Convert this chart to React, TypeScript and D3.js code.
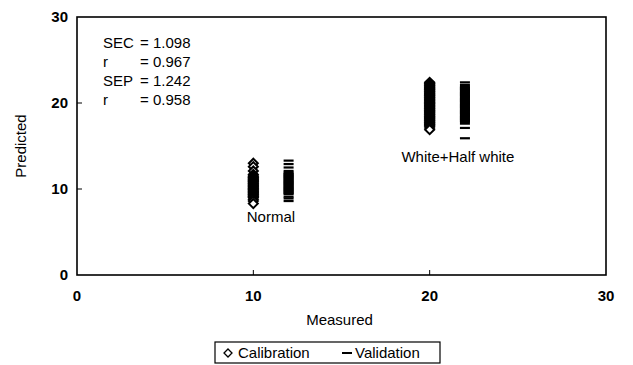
import React from "react";
import * as d3 from "d3";

const xTicks = [0, 10, 20, 30];
const yTicks = [0, 10, 20, 30];

const calNormalX = 10;
const calNormal = [13.0, 12.6, 12.1, 11.7, 11.5, 11.4, 11.3, 11.2, 11.1, 11.0, 10.9, 10.8, 10.7, 10.6, 10.5, 10.4, 10.3, 10.2, 10.1, 10.0, 9.9, 9.8, 9.7, 9.6, 9.5, 9.4, 9.3, 9.2, 9.1, 9.0, 8.8, 8.6, 8.3];
const valNormalX = 12;
const valNormal = [13.3, 12.9, 12.5, 12.1, 11.9, 11.8, 11.7, 11.6, 11.5, 11.4, 11.3, 11.2, 11.1, 11.0, 10.9, 10.8, 10.7, 10.6, 10.5, 10.4, 10.3, 10.2, 10.1, 10.0, 9.9, 9.8, 9.7, 9.6, 9.5, 9.4, 9.1, 8.9, 8.6];
const calWhiteX = 20;
const calWhite = [22.4, 22.3, 22.2, 22.1, 22.0, 21.9, 21.8, 21.7, 21.6, 21.5, 21.4, 21.3, 21.2, 21.1, 21.0, 20.9, 20.8, 20.7, 20.6, 20.5, 20.4, 20.3, 20.2, 20.1, 20.0, 19.9, 19.8, 19.7, 19.6, 19.5, 19.4, 19.3, 19.2, 19.1, 19.0, 18.9, 18.8, 18.7, 18.6, 18.5, 18.4, 18.3, 18.2, 18.1, 18.0, 17.9, 17.8, 17.7, 17.6, 17.5, 17.4, 17.3, 17.1, 16.9];
const valWhiteX = 22;
const valWhite = [22.4, 22.1, 21.9, 21.8, 21.7, 21.6, 21.5, 21.4, 21.3, 21.2, 21.1, 21.0, 20.9, 20.8, 20.7, 20.6, 20.5, 20.4, 20.3, 20.2, 20.1, 20.0, 19.9, 19.8, 19.7, 19.6, 19.5, 19.4, 19.3, 19.2, 19.1, 19.0, 18.9, 18.8, 18.7, 18.6, 18.5, 18.4, 18.3, 18.2, 18.1, 18.0, 17.9, 17.8, 17.6, 17.1, 15.9];

const statLabels = ["SEC", "r", "SEP", "r"];
const statValues = ["1.098", "0.967", "1.242", "0.958"];

const groupLabels = [
  { text: "Normal", x: 11.0, y: 6.2 },
  { text: "White+Half white", x: 21.6, y: 13.1 },
];

export default function App() {
  const W = 633, H = 365;
  const left = 77, right = 606, top = 17, bottom = 275;
  const x = d3.scaleLinear().domain([0, 30]).range([left, right]);
  const y = d3.scaleLinear().domain([0, 30]).range([bottom, top]);
  const font = "'Liberation Sans', Arial, sans-serif";
  const diamond = (cx: number, cy: number, r = 4.5) =>
    `M${cx},${cy - r}L${cx + r},${cy}L${cx},${cy + r}L${cx - r},${cy}Z`;
  return (
    <svg width={W} height={H} style={{ position: "absolute", left: 0, top: 0, background: "#fff" }}>
      <rect x={left} y={top} width={right - left} height={bottom - top} fill="none" stroke="#000" strokeWidth={1.6} />
      {yTicks.map((t) => (
        <g key={"y" + t}>
          {t > 0 && t < 30 && <line x1={left} x2={left + 5} y1={y(t)} y2={y(t)} stroke="#000" strokeWidth={1} />}
          <text x={left - 9} y={y(t) + 5} textAnchor="end" fontFamily={font} fontSize={15} fontWeight="bold">{t}</text>
        </g>
      ))}
      {xTicks.map((t) => (
        <g key={"x" + t}>
          {t > 0 && t < 30 && <line x1={x(t)} x2={x(t)} y1={bottom} y2={bottom - 5} stroke="#000" strokeWidth={1} />}
          <text x={x(t)} y={bottom + 26} textAnchor="middle" fontFamily={font} fontSize={15} fontWeight="bold">{t}</text>
        </g>
      ))}
      <text x={(left + right) / 2 - 2} y={325} textAnchor="middle" fontFamily={font} fontSize={15}>Measured</text>
      <text transform={`translate(26,${(top + bottom) / 2}) rotate(-90)`} textAnchor="middle" fontFamily={font} fontSize={15}>Predicted</text>
      {statLabels.map((s, i) => (
        <g key={"s" + i}>
          <text x={103} y={48 + i * 19} fontFamily={font} fontSize={15}>{s}</text>
          <text x={140} y={48 + i * 19} fontFamily={font} fontSize={15}>= {statValues[i]}</text>
        </g>
      ))}
      {calNormal.map((v, i) => (
        <path key={"cn" + i} d={diamond(x(calNormalX), y(v))} fill="#fff" stroke="#000" strokeWidth={2} />
      ))}
      {valNormal.map((v, i) => (
        <line key={"vn" + i} x1={x(valNormalX) - 5} x2={x(valNormalX) + 5} y1={y(v)} y2={y(v)} stroke="#000" strokeWidth={2.2} />
      ))}
      {calWhite.map((v, i) => (
        <path key={"cw" + i} d={diamond(x(calWhiteX), y(v))} fill="#fff" stroke="#000" strokeWidth={2} />
      ))}
      {valWhite.map((v, i) => (
        <line key={"vw" + i} x1={x(valWhiteX) - 5} x2={x(valWhiteX) + 5} y1={y(v)} y2={y(v)} stroke="#000" strokeWidth={2.2} />
      ))}
      {groupLabels.map((g) => (
        <text key={g.text} x={x(g.x)} y={y(g.y)} textAnchor="middle" fontFamily={font} fontSize={15}>{g.text}</text>
      ))}
      <rect x={215} y={342} width={225} height={21} fill="#fff" stroke="#000" strokeWidth={1.2} />
      <path d={diamond(228, 353, 4)} fill="#fff" stroke="#000" strokeWidth={1.3} />
      <text x={238} y={358} fontFamily={font} fontSize={15}>Calibration</text>
      <line x1={342} x2={352} y1={353} y2={353} stroke="#000" strokeWidth={2} />
      <text x={355} y={358} fontFamily={font} fontSize={15}>Validation</text>
    </svg>
  );
}
